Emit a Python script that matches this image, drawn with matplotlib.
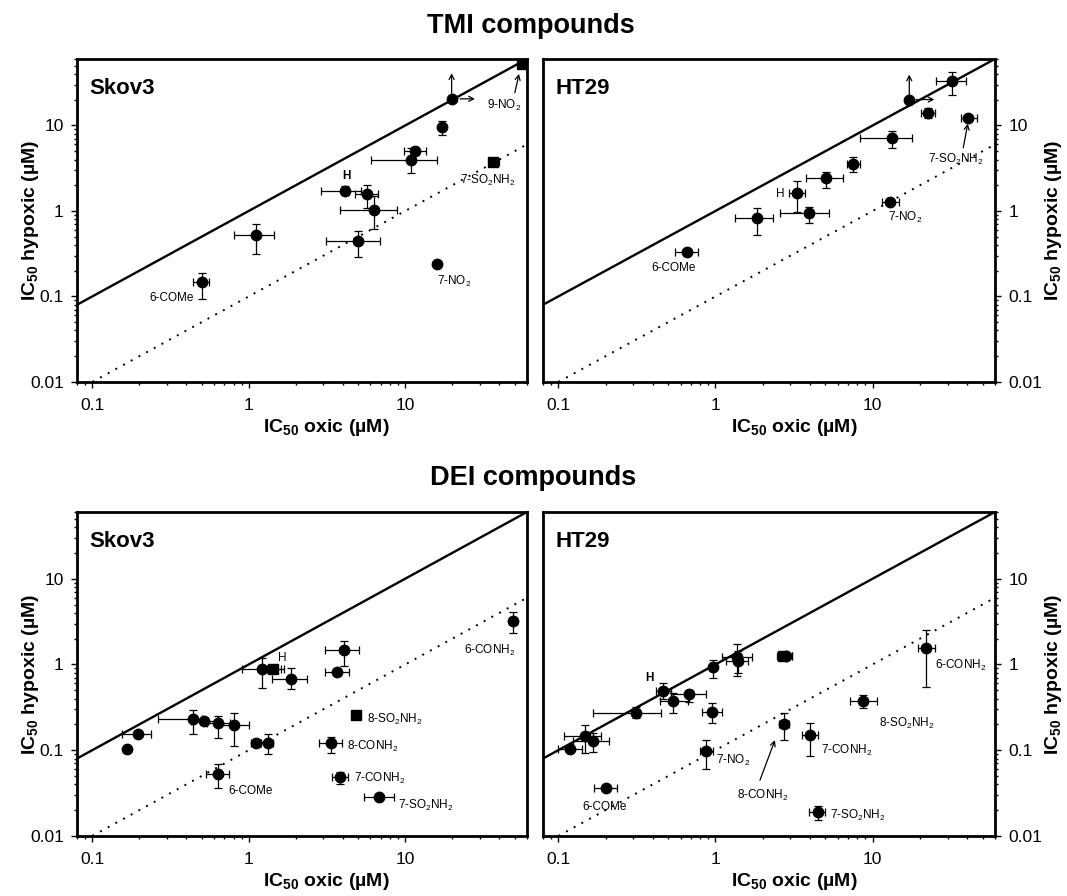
import numpy as np
import matplotlib
matplotlib.use('Agg')
import matplotlib.pyplot as plt
from matplotlib.ticker import LogLocator, NullFormatter

plt.rcParams['font.family'] = ['Liberation Sans', 'DejaVu Sans']
plt.rcParams['mathtext.default'] = 'regular'

nan = np.nan

# ---------------- axis settings ----------------
XLIM = (0.08, 60)
YLIM = (0.01, 60)
XTICKS = [0.1, 1, 10]
XTICKLABELS = ['0.1', '1', '10']
YTICKS = [0.01, 0.1, 1, 10]
YTICKLABELS = ['0.01', '0.1', '1', '10']

# ---------------- TMI compounds, Skov3 ----------------
tmi_skov3_x   = [0.50, 1.12, 4.13, 5.69, 6.30, 4.99, 10.96, 11.6, 17.1, 16.0, 36.2, 19.8, 55.5]
tmi_skov3_y   = [0.146, 0.52, 1.71, 1.59, 1.02, 0.447, 3.97, 5.0, 9.6, 0.238, 3.7, 20.5, 53.0]
tmi_skov3_xlo = [0.44, 0.80, 2.89, 4.81, 3.83, 3.12, 6.04, 9.8, nan, nan, 34.6, nan, nan]
tmi_skov3_xhi = [0.56, 1.46, 5.19, 6.69, 8.85, 6.87, 16.0, 13.6, nan, nan, 39.7, nan, nan]
tmi_skov3_ylo = [0.093, 0.31, 1.52, 1.09, 0.61, 0.29, 2.8, 4.5, 7.7, nan, nan, nan, nan]
tmi_skov3_yhi = [0.19, 0.71, 1.95, 2.0, 1.5, 0.58, 5.49, 5.6, 11.2, nan, nan, nan, nan]
tmi_skov3_mk  = ['o', 'o', 'o', 'o', 'o', 'o', 'o', 'o', 'o', 'o', 's', 'o', 's']
tmi_skov3_labels = [('6-COMe', 0.448, 0.097, 'right', 'normal'),
                    ('H', 4.2, 2.56, 'center', 'bold'),
                    ('7-NO$_2$', 16.0, 0.15, 'left', 'normal'),
                    ('7-SO$_2$NH$_2$', 22.4, 2.3, 'left', 'normal'),
                    ('9-NO$_2$', 33.2, 17.0, 'left', 'normal')]
tmi_skov3_arrows = [((19.8, 23.8), (19.8, 40.8)),
                    ((22.4, 20.5), (27.9, 20.5)),
                    ((50.2, 24.2), (53.3, 40.1))]

# ---------------- TMI compounds, HT29 ----------------
tmi_ht29_x   = [0.658, 1.84, 3.29, 3.93, 5.07, 7.55, 13.2, 12.9, 17.1, 22.4, 32.0, 40.7]
tmi_ht29_y   = [0.327, 0.82, 1.64, 0.95, 2.41, 3.57, 7.18, 1.27, 20.1, 13.9, 32.9, 12.1]
tmi_ht29_xlo = [0.553, 1.34, 2.94, 2.58, 3.79, 6.89, 8.36, 11.4, nan, 20.4, 25.3, 36.5]
tmi_ht29_xhi = [0.779, 2.33, 3.70, 5.28, 6.48, 8.27, 17.8, 14.7, nan, 24.8, 39.3, 45.8]
tmi_ht29_ylo = [nan, 0.53, 0.96, 0.73, 1.87, 2.88, 5.49, nan, nan, 12.1, 22.6, nan]
tmi_ht29_yhi = [nan, 1.07, 2.24, 1.12, 2.88, 4.27, 8.59, nan, nan, 16.1, 42.3, nan]
tmi_ht29_mk  = ['o'] * 12
tmi_ht29_labels = [('6-COMe', 0.545, 0.214, 'center', 'normal'),
                   ('H', 2.6, 1.57, 'center', 'normal'),
                   ('7-NO$_2$', 12.5, 0.84, 'left', 'normal'),
                   ('7-SO$_2$NH$_2$', 22.6, 4.0, 'left', 'normal')]
tmi_ht29_arrows = [((17.1, 22.0), (17.1, 39.4)),
                   ((18.9, 20.1), (24.7, 20.1)),
                   ((37.7, 5.49), (40.3, 10.5))]

# ---------------- DEI compounds, Skov3 ----------------
dei_skov3_x   = [0.168, 0.195, 0.44, 0.52, 0.634, 0.805, 1.106, 1.334, 0.64, 1.22, 1.44, 1.855,
                 4.06, 3.67, 4.85, 3.35, 3.82, 6.84, 49.0]
dei_skov3_y   = [0.104, 0.153, 0.229, 0.219, 0.206, 0.195, 0.122, 0.122, 0.0524, 0.875, 0.875, 0.681,
                 1.456, 0.814, 0.257, 0.120, 0.0492, 0.0285, 3.2]
dei_skov3_xlo = [nan, 0.155, 0.264, 0.43, 0.54, 0.641, 1.03, 1.18, 0.537, 0.912, 1.30, 1.40,
                 3.05, 3.05, nan, 2.82, 3.40, 5.42, 46.0]
dei_skov3_xhi = [nan, 0.239, 0.50, 0.63, 0.76, 1.0, 1.20, 1.44, 0.753, 1.67, 1.62, 2.36,
                 5.10, 4.37, nan, 3.96, 4.34, 8.46, 52.0]
dei_skov3_ylo = [nan, nan, 0.156, 0.20, 0.14, 0.112, nan, 0.0895, 0.0366, 0.535, nan, 0.512,
                 0.97, nan, nan, 0.0936, 0.0408, nan, 2.34]
dei_skov3_yhi = [nan, nan, 0.291, 0.24, 0.25, 0.274, nan, 0.153, 0.0685, 1.2, nan, 0.914,
                 1.90, nan, nan, 0.144, 0.0557, nan, 4.07]
dei_skov3_mk  = ['o', 'o', 'o', 'o', 'o', 'o', 'o', 'o', 'o', 'o', 's', 'o',
                 'o', 'o', 's', 'o', 'o', 'o', 'o']
dei_skov3_labels = [('8-SO$_2$NH$_2$', 5.70, 0.228, 'left', 'normal'),
                    ('8-CONH$_2$', 4.27, 0.11, 'left', 'normal'),
                    ('7-CONH$_2$', 4.73, 0.047, 'left', 'normal'),
                    ('7-SO$_2$NH$_2$', 8.99, 0.0225, 'left', 'normal'),
                    ('6-CONH$_2$', 23.9, 1.45, 'left', 'normal'),
                    ('6-COMe', 0.746, 0.0335, 'left', 'normal'),
                    ('H', 1.63, 1.2, 'center', 'normal')]
dei_skov3_arrows = []

# ---------------- DEI compounds, HT29 ----------------
dei_ht29_x   = [0.118, 0.147, 0.167, 0.312, 0.465, 0.54, 0.683, 0.962, 0.952, 1.364, 1.40,
                2.68, 2.80, 2.71, 0.869, 3.98, 8.71, 21.9, 0.202, 4.47]
dei_ht29_y   = [0.104, 0.146, 0.129, 0.275, 0.493, 0.377, 0.447, 0.923, 0.281, 1.21, 1.10,
                1.27, 1.25, 0.201, 0.0977, 0.15, 0.377, 1.56, 0.0365, 0.0188]
dei_ht29_xlo = [0.10, 0.109, 0.124, 0.167, 0.42, 0.447, 0.52, nan, 0.826, 1.094, 1.16,
                2.47, 2.60, 2.54, 0.80, 3.55, 7.17, 19.5, 0.17, 3.94]
dei_ht29_xhi = [0.141, 0.187, 0.209, 0.453, 0.52, 0.673, 0.869, nan, 1.094, 1.71, 1.62,
                3.05, 3.05, 2.95, 0.96, 4.47, 10.6, 24.9, 0.235, 5.01]
dei_ht29_ylo = [nan, 0.0917, 0.096, 0.235, 0.40, 0.27, 0.367, 0.687, 0.205, 0.731, 0.80,
                nan, 1.15, 0.131, 0.0597, 0.0853, 0.307, 0.539, nan, 0.0153]
dei_ht29_yhi = [nan, 0.196, 0.157, 0.321, 0.60, 0.46, 0.51, 1.12, 0.351, 1.71, 1.45,
                nan, 1.35, 0.268, 0.131, 0.205, 0.439, 2.51, nan, 0.0223]
dei_ht29_mk  = ['o'] * 11 + ['s'] + ['o'] * 8
dei_ht29_labels = [('H', 0.379, 0.687, 'center', 'bold'),
                   ('7-NO$_2$', 1.01, 0.075, 'left', 'normal'),
                   ('8-CONH$_2$', 1.99, 0.030, 'center', 'normal'),
                   ('7-CONH$_2$', 4.71, 0.100, 'left', 'normal'),
                   ('8-SO$_2$NH$_2$', 10.96, 0.205, 'left', 'normal'),
                   ('6-CONH$_2$', 24.9, 0.98, 'left', 'normal'),
                   ('6-COMe', 0.197, 0.0215, 'center', 'normal'),
                   ('7-SO$_2$NH$_2$', 5.35, 0.0175, 'left', 'normal')]
dei_ht29_arrows = [((1.92, 0.0448), (2.39, 0.131))]

XLABEL = 'IC$_{50}$ oxic (µM)'
YLABEL = 'IC$_{50}$ hypoxic (µM)'


def draw_panel(ax, title, x, y, xlo, xhi, ylo, yhi, mk, labels, arrows, right=False):
    x = np.asarray(x, float); y = np.asarray(y, float)
    xlo = np.asarray(xlo, float); xhi = np.asarray(xhi, float)
    ylo = np.asarray(ylo, float); yhi = np.asarray(yhi, float)
    mk = np.asarray(mk)

    ax.set_xscale('log'); ax.set_yscale('log')
    ax.set_xlim(XLIM); ax.set_ylim(YLIM)

    lx = np.array(XLIM, float)
    ax.plot(lx, lx, color='k', lw=1.7, zorder=2, solid_capstyle='butt')
    ax.plot(lx, lx / 10.0, color='k', lw=1.4, ls=(0, (1, 3.5)), zorder=2)

    m = ~np.isnan(xlo)
    ax.errorbar(x[m], y[m], xerr=[x[m] - xlo[m], xhi[m] - x[m]], fmt='none',
                ecolor='k', elinewidth=0.9, capsize=2.6, capthick=0.9, zorder=3)
    m = ~np.isnan(ylo)
    ax.errorbar(x[m], y[m], yerr=[y[m] - ylo[m], yhi[m] - y[m]], fmt='none',
                ecolor='k', elinewidth=0.9, capsize=2.6, capthick=0.9, zorder=3)
    for marker, ms in (('o', 7.5), ('s', 6.5)):
        m = mk == marker
        ax.plot(x[m], y[m], ls='none', marker=marker, ms=ms, color='k',
                zorder=4, clip_on=False)

    for txt, tx, ty, ha, fw in labels:
        ax.text(tx, ty, txt, fontsize=8.5, ha=ha, va='center', fontweight=fw, zorder=5)
    for tail, head in arrows:
        ax.annotate('', xy=head, xytext=tail,
                    arrowprops=dict(arrowstyle='->,head_length=0.35,head_width=0.18',
                                    color='k', lw=0.9, shrinkA=0, shrinkB=0))

    ax.set_xticks(XTICKS, XTICKLABELS)
    ax.set_yticks(YTICKS, YTICKLABELS)
    ax.xaxis.set_minor_locator(LogLocator(base=10, subs=np.arange(2, 10) * 1.0, numticks=30))
    ax.yaxis.set_minor_locator(LogLocator(base=10, subs=np.arange(2, 10) * 1.0, numticks=30))
    ax.xaxis.set_minor_formatter(NullFormatter())
    ax.yaxis.set_minor_formatter(NullFormatter())

    ax.tick_params(which='both', direction='out', width=1.0, top=False, labelsize=12.5)
    ax.tick_params(which='major', length=4.5)
    ax.tick_params(which='minor', length=2.5)
    ax.tick_params(axis='x', pad=7)
    ax.tick_params(axis='y', pad=5)
    if right:
        ax.tick_params(axis='y', which='both', left=False, right=True,
                       labelleft=False, labelright=True)
        ax.yaxis.set_label_position('right')
    for sp in ax.spines.values():
        sp.set_linewidth(2.0)

    ax.set_xlabel(XLABEL, fontsize=14, fontweight='bold')
    ax.set_ylabel(YLABEL, fontsize=14, fontweight='bold')
    ax.xaxis.set_label_coords(0.555, -0.107)
    ax.yaxis.set_label_coords(1.106 if right else -0.079, 0.5)

    ax.text(0.028, 0.891, title, transform=ax.transAxes, fontsize=16,
            fontweight='bold', va='baseline', ha='left')


fig = plt.figure(figsize=(10.67, 8.96), dpi=100)
ax_tl = fig.add_axes([0.0722, 0.5737, 0.4217, 0.3605])
ax_tr = fig.add_axes([0.5089, 0.5737, 0.4236, 0.3605])
ax_bl = fig.add_axes([0.0722, 0.0670, 0.4217, 0.3616])
ax_br = fig.add_axes([0.5089, 0.0670, 0.4236, 0.3616])

draw_panel(ax_tl, 'Skov3', tmi_skov3_x, tmi_skov3_y, tmi_skov3_xlo, tmi_skov3_xhi,
           tmi_skov3_ylo, tmi_skov3_yhi, tmi_skov3_mk, tmi_skov3_labels, tmi_skov3_arrows)
draw_panel(ax_tr, 'HT29', tmi_ht29_x, tmi_ht29_y, tmi_ht29_xlo, tmi_ht29_xhi,
           tmi_ht29_ylo, tmi_ht29_yhi, tmi_ht29_mk, tmi_ht29_labels, tmi_ht29_arrows, right=True)
draw_panel(ax_bl, 'Skov3', dei_skov3_x, dei_skov3_y, dei_skov3_xlo, dei_skov3_xhi,
           dei_skov3_ylo, dei_skov3_yhi, dei_skov3_mk, dei_skov3_labels, dei_skov3_arrows)
draw_panel(ax_br, 'HT29', dei_ht29_x, dei_ht29_y, dei_ht29_xlo, dei_ht29_xhi,
           dei_ht29_ylo, dei_ht29_yhi, dei_ht29_mk, dei_ht29_labels, dei_ht29_arrows, right=True)

fig.text(0.4977, 0.9628, 'TMI compounds', ha='center', va='baseline',
         fontsize=19.5, fontweight='bold')
fig.text(0.4995, 0.4587, 'DEI compounds', ha='center', va='baseline',
         fontsize=19.5, fontweight='bold')

fig.savefig('out.png', dpi=100)
